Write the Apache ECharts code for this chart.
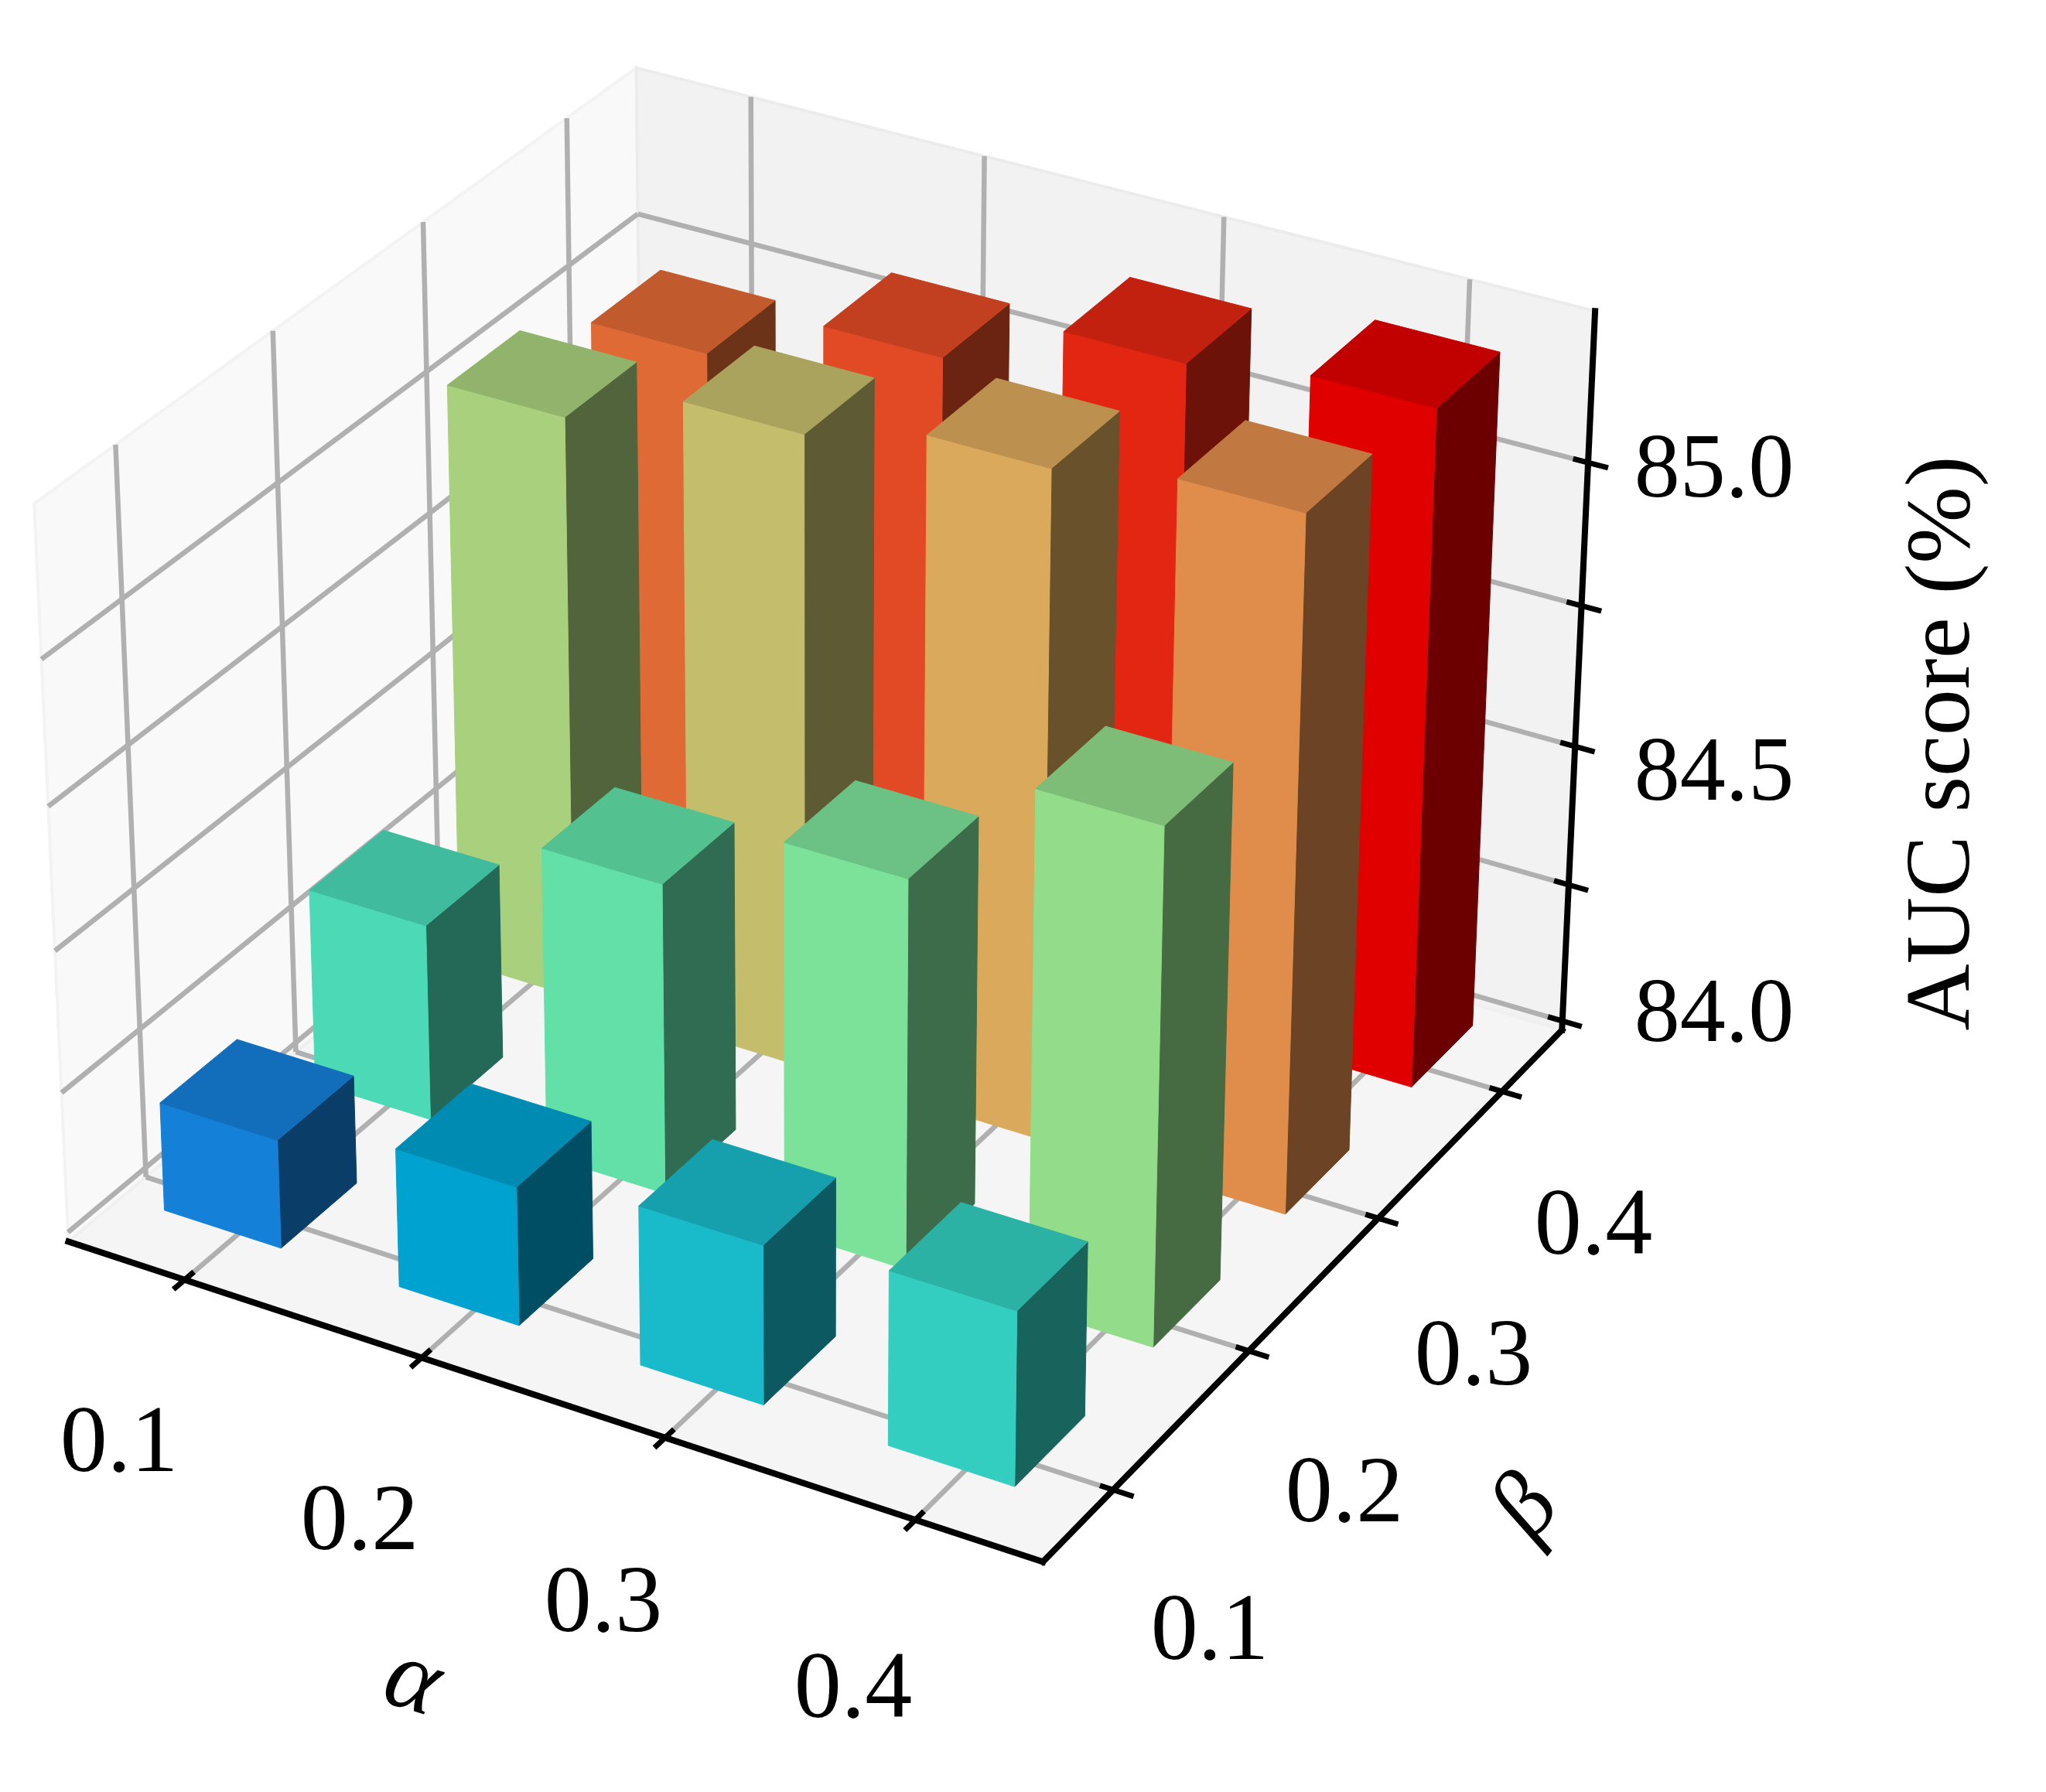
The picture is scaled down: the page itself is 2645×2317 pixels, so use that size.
<!DOCTYPE html>
<html><head><meta charset="utf-8"><style>html,body{margin:0;background:#fff}#c{width:2645px;height:2317px}</style>
<script src="https://cdn.jsdelivr.net/npm/echarts@6/dist/echarts.min.js"></script></head><body><div id="c"></div><script>
// ---- data
const alphaTicks=[0.1,0.2,0.3,0.4];
const betaTicks=[0.1,0.2,0.3,0.4];
const zTicks=[84,84.25,84.5,84.75,85];
const zTickLabels=['84.0','84.5','85.0'];
const aucBeta01=[84.208,84.26,84.295,84.32];
const aucBeta02=[84.365,84.565,84.70,84.915];
const aucBeta03=[85.052,85.135,85.19,85.23];
const aucBeta04=[84.972,85.075,85.175,85.21];
const colBeta01=['#1580D8','#00A2D0','#19BACA','#33CEC0'];
const colBeta02=['#4CD9B6','#62E0A8','#7CE299','#92DC8A'];
const colBeta03=['#A9D07C','#C4BD6C','#DBA95C','#E08C4B'];
const colBeta04=['#E06A35','#E24A25','#E22612','#E00000'];
const values=[aucBeta01,aucBeta02,aucBeta03,aucBeta04], colors=[colBeta01,colBeta02,colBeta03,colBeta04];

// ---- scene scales and camera calibration (unit cube -> picture)
const R={a:[.05,.45],b:[.05,.45],z:[83.983,85.26]}, barHalf=.025, barBase=84.015;
const U=a=>(a-R.a[0])/(R.a[1]-R.a[0]),V=b=>(b-R.b[0])/(R.b[1]-R.b[0]),W=z=>(z-R.z[0])/(R.z[1]-R.z[0]);
const cal=[[0,0,0,90,1597],[1,0,0,1347,2015],[1,1,0,2022,1324],[0,1,0,829,997],[0,0,1,46,646],[0,1,1,820,83],[1,1,1,2063,410],
[.125,0,0,240,1657],[.375,0,0,546,1759],[.625,0,0,857,1863],[.875,0,0,1179,1971],[1,.125,0,1438,1927],[1,.375,0,1617,1749],[1,.625,0,1782,1577],[1,.875,0,1940,1411],[0,.125,0,191,1521],
[1,1,W(85),2052,602],[1,1,W(84.75),2045,784],[1,1,W(84.5),2037,964],[1,1,W(84.25),2029,1140],[1,1,W(84),2021,1312]];
function fit(){const n=11,M=Array.from({length:n},()=>Array(n+1).fill(0));const add=(r,t)=>{for(let i=0;i<n;i++){for(let j=0;j<n;j++)M[i][j]+=r[i]*r[j];M[i][n]+=r[i]*t}};
for(const [X,Y,Z,x,y] of cal){add([X,Y,Z,1,0,0,0,0,-x*X,-x*Y,-x*Z],x);add([0,0,0,0,X,Y,Z,1,-y*X,-y*Y,-y*Z],y)}
for(let i=0;i<n;i++){let p=i;for(let k=i;k<n;k++)if(Math.abs(M[k][i])>Math.abs(M[p][i]))p=k;[M[i],M[p]]=[M[p],M[i]];for(let k=0;k<n;k++)if(k!==i){const f=M[k][i]/M[i][i];for(let j=i;j<=n;j++)M[k][j]-=f*M[i][j]}}
return M.map((r,i)=>r[n]/r[i])}
const P=fit();
const proj=(u,v,w)=>{const d=P[8]*u+P[9]*v+P[10]*w+1;return[(P[0]*u+P[1]*v+P[2]*w+P[3])/d,(P[4]*u+P[5]*v+P[6]*w+P[7])/d]};

const shade=(hex,f)=>{const n=parseInt(hex.slice(1),16);return `rgb(${Math.round((n>>16)*f)},${Math.round(((n>>8)&255)*f)},${Math.round((n&255)*f)})`};
const scene=api=>(u,v,w)=>api.coord(proj(u,v,w));
const poly=(pts,fill,stroke)=>({type:'polygon',shape:{points:pts},style:{fill,stroke:stroke||fill,lineWidth:stroke?4:1}});
const line=(a,b,stroke,lineWidth)=>({type:'line',shape:{x1:a[0],y1:a[1],x2:b[0],y2:b[1]},style:{stroke,lineWidth,lineCap:'butt'}});
const SERIF='"Liberation Serif","Times New Roman",serif';
const text=(t,p,size,rot,style)=>({type:'text',x:p[0],y:p[1],rotation:rot||0,style:Object.assign({text:t,fontFamily:SERIF,fontSize:size,fill:'#000',align:'center',verticalAlign:'middle'},style||{})});

function backdrop(p,api){const s=scene(api),k=[];
 k.push(poly([s(0,0,0),s(0,1,0),s(0,1,1),s(0,0,1)],'#F9F9F9','#F3F3F3'));
 k.push(poly([s(0,1,0),s(1,1,0),s(1,1,1),s(0,1,1)],'#F2F2F2','#ECECEC'));
 k.push(poly([s(0,0,0),s(1,0,0),s(1,1,0),s(0,1,0)],'#F5F5F5','#F0F0F0'));
 const G='#B0B0B0',LW=6.5;
 alphaTicks.forEach(a=>{const u=U(a);k.push(line(s(u,0,0),s(u,1,0),G,LW),line(s(u,1,0),s(u,1,1),G,LW))});
 betaTicks.forEach(b=>{const v=V(b);k.push(line(s(0,v,1),s(0,v,0),G,LW),line(s(0,v,0),s(1,v,0),G,LW))});
 zTicks.forEach(z=>{const w=W(z);k.push(line(s(0,0,w),s(0,1,w),G,LW),line(s(0,1,w),s(1,1,w),G,LW))});
 return {type:'group',children:k};}

function bar(p,api){const s=scene(api),bi=api.value(0),ai=api.value(1),z=api.value(2),col=colors[bi][ai];
 const a=alphaTicks[ai],b=betaTicks[bi],u0=U(a-barHalf),u1=U(a+barHalf),v0=V(b-barHalf),v1=V(b+barHalf),w0=W(barBase),w1=W(z);
 return {type:'group',children:[
  poly([s(u1,v0,w0),s(u1,v1,w0),s(u1,v1,w1),s(u1,v0,w1)],shade(col,.48)),
  poly([s(u0,v0,w0),s(u1,v0,w0),s(u1,v0,w1),s(u0,v0,w1)],col),
  poly([s(u0,v0,w1),s(u1,v0,w1),s(u1,v1,w1),s(u0,v1,w1)],shade(col,.86))]};}

const alphaLabelPos=[[154,1870],[465,1971],[780,2077],[1103,2188]], betaLabelPos=[[1564,2113],[1738,1935],[1905,1758],[2060,1589]], zLabelPos=[[2216,1315],[2216,1003],[2216,611]];
function frame(p,api){const s=scene(api),k=[],B='#000',LW=8;
 k.push(line(s(0,0,0),s(1,0,0),B,LW),line(s(1,0,0),s(1,1,0),B,LW),line(s(1,1,0),s(1,1,1),B,LW));
 k[0].style.lineCap=k[1].style.lineCap=k[2].style.lineCap='square';
 alphaTicks.forEach((a,i)=>{const u=U(a);k.push(line(s(u,-.018,0),s(u,.015,0),B,7),text(a.toFixed(1),alphaLabelPos[i],122))});
 betaTicks.forEach((b,i)=>{const v=V(b);k.push(line(s(.987,v,0),s(1.02,v,0),B,7),text(b.toFixed(1),betaLabelPos[i],122))});
 zTicks.forEach(z=>{const w=W(z);k.push(line(s(.985,1,w),s(1.02,1,w),B,7))});
 zTickLabels.forEach((t,i)=>k.push(text(t,zLabelPos[i],118)));
 k.push(text('AUC score (%)',[2514,961],119.5,Math.PI/2));
 k.push(text('α',[533,2176],130,-0.3,{fontStyle:'italic'}));
 k.push(text('β',[1975,1951],122,0.9,{fontStyle:'italic'}));
 return {type:'group',children:k};}

const barRows=[];
for(let bi=3;bi>=0;bi--)for(let ai=0;ai<4;ai++)barRows.push([bi,ai,values[bi][ai]]);
const c=echarts.init(document.getElementById('c'));
c.setOption({animation:false,backgroundColor:'#fff',grid:{left:0,right:0,top:0,bottom:0},
 xAxis:{type:'value',min:0,max:2645,show:false},yAxis:{type:'value',min:0,max:2317,inverse:true,show:false},
 series:[
  {type:'custom',name:'panes',silent:true,clip:false,z:1,data:[[0,0]],renderItem:backdrop},
  {type:'custom',name:'AUC score (%)',silent:true,clip:false,z:2,data:barRows,encode:{x:1,y:2},renderItem:bar},
  {type:'custom',name:'axes',silent:true,clip:false,z:3,data:[[0,0]],renderItem:frame}]});
</script></body></html>
